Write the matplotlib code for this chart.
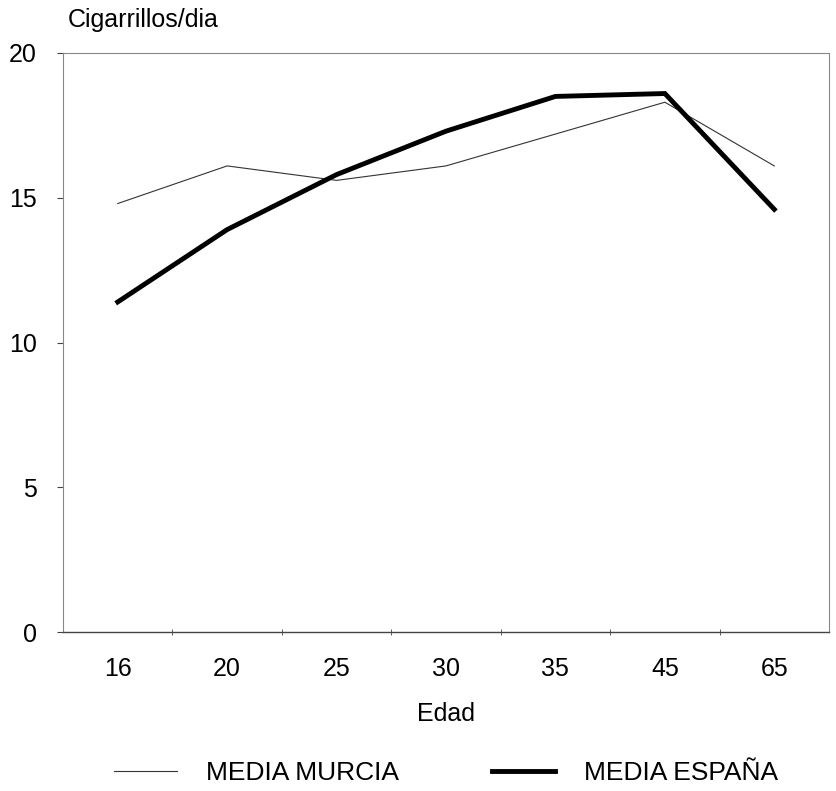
import matplotlib
matplotlib.use("Agg")
import matplotlib.pyplot as plt
import numpy as np

plt.rcParams['font.family'] = ['Liberation Sans', 'DejaVu Sans']

edades = ["16", "20", "25", "30", "35", "45", "65"]
media_murcia = [14.8, 16.1, 15.6, 16.1, 17.2, 18.3, 16.1]
media_espana = [11.4, 13.9, 15.8, 17.3, 18.5, 18.6, 14.6]
yticks = [0, 5, 10, 15, 20]

fig = plt.figure(figsize=(8.37, 7.91), dpi=100)
ax = fig.add_axes([63/837, 1-632/791, (829-63)/837, (632-53)/791])

x = np.arange(len(edades))
l1, = ax.plot(x, media_murcia, color='#333333', lw=0.8, label='MEDIA MURCIA')
l2, = ax.plot(x, media_espana, color='black', lw=3.5, label='MEDIA ESPAÑA',
              solid_joinstyle='miter')

ax.set_xlim(-0.5, len(edades) - 0.5)
ax.set_ylim(0, 20)
ax.set_yticks(yticks)
ax.set_yticklabels([str(v) for v in yticks], fontsize=18)
ax.set_xticks(x)
ax.set_xticklabels(edades, fontsize=18)
ax.tick_params(axis='x', which='major', length=0, pad=18)
ax.set_xticks(np.arange(0.5, len(edades) - 0.5, 1), minor=True)
ax.tick_params(axis='x', which='minor', length=5, direction='inout', color='#444444')
ax.tick_params(axis='y', length=4, direction='out', pad=15, color='#444444')

for s in ['top', 'left', 'right']:
    ax.spines[s].set_linestyle((0, (2, 1)))
    ax.spines[s].set_color('#888888')
    ax.spines[s].set_linewidth(0.8)
ax.spines['bottom'].set_color('#444444')
ax.spines['bottom'].set_linewidth(1.0)

ax.set_xlabel('Edad', fontsize=18, labelpad=15)
fig.text(68/837, 1-20/791, 'Cigarrillos/dia', fontsize=18, ha='left', va='center')

fig.legend(handles=[l1, l2], loc='center', bbox_to_anchor=(0.533, 1-773/791),
           ncol=2, frameon=False, fontsize=19, handlelength=2.4,
           handletextpad=1.1, columnspacing=3.5)

fig.savefig('out.png', dpi=100)
